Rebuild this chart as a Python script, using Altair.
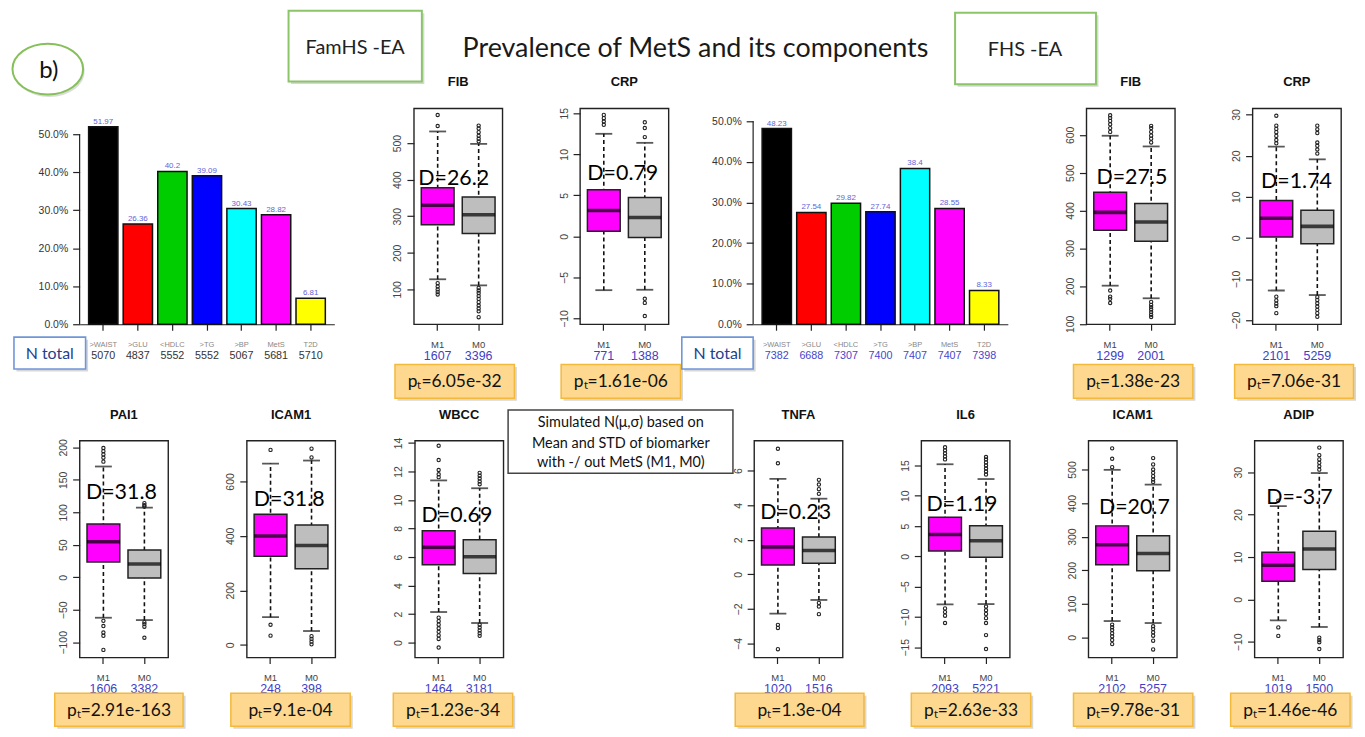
import altair as alt
import pandas as pd

# ------------------------------------------------------------------ data
BAR_CATS = [">WAIST", ">GLU", "<HDLC", ">TG", ">BP", "MetS", "T2D"]
BAR_COLORS = ["#000000", "#ff0000", "#00cd00", "#0000ff", "#00ffff", "#ff00ff", "#ffff00"]
FAM_PCT = [51.97, 26.36, 40.2, 39.09, 30.43, 28.82, 6.81]
FAM_N = [5070, 4837, 5552, 5552, 5067, 5681, 5710]
FHS_PCT = [48.23, 27.54, 29.82, 27.74, 38.4, 28.55, 8.33]
FHS_N = [7382, 6688, 7307, 7400, 7407, 7407, 7398]
PCT_TICKS = [0, 0.1, 0.2, 0.3, 0.4, 0.5]

GROUPS = ["M1", "M0"]
BOX_COLORS = ["#ff00ff", "#bebebe"]

# box stats: [lower whisker, Q1, median, Q3, upper whisker]
FAM_FIB_M1 = [127.7, 277, 330, 378, 532]
FAM_FIB_M0 = [111, 252.6, 304.4, 352.5, 498]
FAM_FIB_OUT1 = [577, 547, 117, 108, 100, 93, 86]
FAM_FIB_OUT0 = [548, 540, 530, 520, 512, 505, 104, 97, 90, 82, 74, 65, 56, 48, 40, 24]
FAM_FIB_N = [1607, 3396]
FAM_FIB_TICKS = [100, 200, 300, 400, 500]

FAM_CRP_M1 = [-6.55, 0.64, 3.15, 5.67, 12.5]
FAM_CRP_M0 = [-6.5, -0.12, 2.3, 4.73, 11.4]
FAM_CRP_OUT1 = [14.8, 14.4, 14.0, 13.6]
FAM_CRP_OUT0 = [13.9, 13.2, 12.1, -7.6, -8.1, -9.7]
FAM_CRP_N = [771, 1388]
FAM_CRP_TICKS = [-10, -5, 0, 5, 10, 15]

FHS_FIB_M1 = [200.9, 347.6, 395, 448.4, 597.8]
FHS_FIB_M0 = [167.5, 318.6, 369.4, 418.7, 569.5]
FHS_FIB_OUT1 = [652, 645, 637, 628, 618, 608, 188, 172, 166, 155]
FHS_FIB_OUT0 = [624, 618, 608, 598, 590, 580, 158, 150, 144, 138, 131, 124, 118]
FHS_FIB_N = [1299, 2001]
FHS_FIB_TICKS = [100, 200, 300, 400, 500, 600]

FHS_CRP_M1 = [-12.8, 0.24, 4.77, 9.1, 22.2]
FHS_CRP_M0 = [-13.9, -1.4, 2.8, 6.7, 19.1]
FHS_CRP_OUT1 = [29.7, 27.3, 26.5, 25.7, 24.8, 23.8, 23.0, -14.3, -15.2, -16.0, -16.6, -18.3]
FHS_CRP_OUT0 = [27.3, 26.4, 25.5, 23.2, 22.4, 21.5, 20.5, -14.4, -15.1, -15.9, -16.7, -17.5, -18.3, -19.2]
FHS_CRP_N = [2101, 5259]
FHS_CRP_TICKS = [-20, -10, 0, 10, 20, 30]

FAM_PAI1_M1 = [-62.2, 23.5, 54.6, 82, 170.5]
FAM_PAI1_M0 = [-65.8, -1, 20.5, 42, 107.2]
FAM_PAI1_OUT1 = [199, 194, 189, 184, 178, -67, -75, -85, -90, -111.7]
FAM_PAI1_OUT0 = [114, 111, 109, -69, -72, -76, -93]
FAM_PAI1_N = [1606, 3382]
FAM_PAI1_TICKS = [-100, -50, 0, 50, 100, 150, 200]

FAM_ICAM1_M1 = [102, 325, 400, 479.4, 665.6]
FAM_ICAM1_M0 = [51, 279.7, 365, 440.3, 676.6]
FAM_ICAM1_OUT1 = [715.7, 74, 34]
FAM_ICAM1_OUT0 = [720, 688, 32, 22, 12, 2]
FAM_ICAM1_N = [248, 398]
FAM_ICAM1_TICKS = [0, 200, 400, 600]

FAM_WBCC_M1 = [2.14, 5.46, 6.68, 7.84, 11.37]
FAM_WBCC_M0 = [1.37, 4.84, 6.02, 7.21, 10.82]
FAM_WBCC_OUT1 = [13.8, 12.8, 12.1, 11.8, 11.6, 1.74, 1.5, 1.25, 1.0, 0.75, 0.5, 0.25, -0.35]
FAM_WBCC_OUT0 = [11.9, 11.7, 11.5, 11.3, 11.1, 1.25, 1.05, 0.85, 0.65, 0.47]
FAM_WBCC_N = [1464, 3181]
FAM_WBCC_TICKS = [0, 2, 4, 6, 8, 10, 12, 14]

FHS_TNFA_M1 = [-2.27, 0.55, 1.59, 2.68, 5.53]
FHS_TNFA_M0 = [-1.48, 0.65, 1.38, 2.17, 4.38]
FHS_TNFA_OUT1 = [7.27, 6.43, -2.92, -3.1, -4.33]
FHS_TNFA_OUT0 = [5.47, 5.2, 4.93, 4.66, -1.65, -1.86, -2.3]
FHS_TNFA_N = [1020, 1516]
FHS_TNFA_TICKS = [-4, -2, 0, 2, 4, 6]

FHS_IL6_M1 = [-7.93, 0.87, 3.6, 6.45, 15.2]
FHS_IL6_M0 = [-7.88, -0.16, 2.58, 5.04, 12.76]
FHS_IL6_OUT1 = [18, 17.5, 17, 16.5, 16, -8.6, -9.2, -9.8, -11]
FHS_IL6_OUT0 = [16.4, 16, 15.5, 15, 14.5, 14, 13.5, -8.3, -8.9, -9.5, -10.2, -11, -13, -15.3]
FHS_IL6_N = [2093, 5221]
FHS_IL6_TICKS = [-15, -10, -5, 0, 5, 10, 15]

FHS_ICAM1_M1 = [48.6, 216.5, 275.8, 332.1, 499]
FHS_ICAM1_M0 = [42.7, 198.7, 250, 302.4, 455]
FHS_ICAM1_OUT1 = [563, 532, 507, 38, 30, 22, 12, 3, -8, -20]
FHS_ICAM1_OUT0 = [534, 515, 500, 490, 480, 470, 463, 33, 25, 15, 5, -10, -36]
FHS_ICAM1_N = [2102, 5257]
FHS_ICAM1_TICKS = [0, 100, 200, 300, 400, 500]

FHS_ADIP_M1 = [-4.93, 4.3, 8.05, 11.1, 22.0]
FHS_ADIP_M0 = [-6.5, 7.04, 11.9, 16.1, 29.8]
FHS_ADIP_OUT1 = [23.3, -6.6, -8.6]
FHS_ADIP_OUT0 = [35.8, 34, 33, 32.2, 31.4, 30.6, -9, -9.6, -10.1, -11.7]
FHS_ADIP_N = [1019, 1500]
FHS_ADIP_TICKS = [-10, 0, 10, 20, 30]

D_VALUES = ["26.2", "0.79", "27.5", "1.74", "31.8", "31.8", "0.69", "0.23", "1.19", "20.7", "-3.7"]
P_VALUES = ["6.05e-32", "1.61e-06", "1.38e-23", "7.06e-31", "2.91e-163", "9.1e-04",
            "1.23e-34", "1.3e-04", "2.63e-33", "9.78e-31", "1.46e-46"]

TITLE = "Prevalence of MetS and its components"
NOTE = ["Simulated N(\u03bc,\u03c3) based on", "Mean and STD of biomarker", "with -/ out MetS (M1, M0)"]

# ------------------------------------------------------------------ helpers
RF = "Liberation Sans"
CF = "Lato"
ONE = pd.DataFrame({"k": [0]})
H1 = 217
H2 = 218
BW = 89


def rect(x0, x1, y0, y1, fill, stroke, sw=1.5, shadow=True):
    out = []
    if shadow:
        out.append(alt.Chart(ONE).mark_rect(fill="#8c8c8c", opacity=0.35).encode(
            x=alt.value(x0 + 2.5), x2=alt.value(x1 + 2.5), y=alt.value(y0 + 2.5), y2=alt.value(y1 + 2.5)))
    out.append(alt.Chart(ONE).mark_rect(fill=fill, stroke=stroke, strokeWidth=sw).encode(
        x=alt.value(x0), x2=alt.value(x1), y=alt.value(y0), y2=alt.value(y1)))
    return out


def text(x, y, s, **kw):
    return alt.Chart(ONE).mark_text(align="center", baseline="middle", **kw).encode(
        x=alt.value(x), y=alt.value(y), text=alt.value(s))


def pt_box(x0, x1, y0, y1, pval):
    lay = rect(x0, x1, y0, y1, "#fdd88e", "#f2b93b", 1.5)
    lay.append(text((x0 + x1) / 2, (y0 + y1) / 2 + 1, "p\u209c=" + pval, font=CF, fontSize=17.5, color="#111"))
    return lay


def box_panel(title, m1, m0, out1, out0, ns, ticks, dom, dval, d_xy, pval, pt_x, h, pt_y):
    stats = pd.DataFrame({
        "grp": GROUPS, "col": BOX_COLORS,
        "lo": [m1[0], m0[0]], "q1": [m1[1], m0[1]], "med": [m1[2], m0[2]],
        "q3": [m1[3], m0[3]], "hi": [m1[4], m0[4]], "n": [str(v) for v in ns]})
    outl = pd.DataFrame({"grp": ["M1"] * len(out1) + ["M0"] * len(out0), "v": list(out1) + list(out0)})
    xs = alt.Scale(domain=GROUPS, paddingInner=0.2, paddingOuter=0.18)
    xax = alt.Axis(title=None, domain=False, grid=False, labelAngle=0, labelFont=RF, labelFontSize=9.5,
                   labelColor="#444", tickColor="#222", tickSize=6, tickWidth=1.2, labelPadding=9)
    X = alt.X("grp:N", scale=xs, axis=xax, title=None)
    Xn = alt.X("grp:N", scale=xs, title=None)
    ys = alt.Scale(domain=dom, nice=False, zero=False)
    yax = alt.Axis(title=None, values=ticks, tickCount=30, format="d", domain=False, grid=False,
                   labelAngle=270, labelAlign="center", labelBaseline="bottom", labelPadding=4, tickSize=7,
                   tickColor="#222", tickWidth=1.2, labelFont=RF, labelFontSize=10.5, labelColor="#444",
                   labelOverlap=False)
    base = alt.Chart(stats)
    whisk = base.mark_rule(color="#111", strokeWidth=1.6, strokeDash=[4, 3]).encode(
        x=X, y=alt.Y("lo:Q", scale=ys, axis=yax, title=None), y2="hi:Q")
    cap_lo = base.mark_tick(color="#111", size=17, thickness=1.8).encode(x=Xn, y=alt.Y("lo:Q", title=None))
    cap_hi = base.mark_tick(color="#111", size=17, thickness=1.8).encode(x=Xn, y=alt.Y("hi:Q", title=None))
    box = base.mark_bar(stroke="#222", strokeWidth=1.5).encode(
        x=Xn, y=alt.Y("q1:Q", title=None), y2="q3:Q", color=alt.Color("col:N", scale=None, legend=None))
    med = base.mark_tick(color="#000", size=33, thickness=3.6).encode(x=Xn, y=alt.Y("med:Q", title=None))
    pts = alt.Chart(outl).mark_point(shape="circle", filled=False, size=11, strokeWidth=1.1,
                                     color="#222", opacity=1).encode(x=Xn, y=alt.Y("v:Q", title=None))
    cnt = base.mark_text(font=RF, fontSize=12.5, color="#4040c6", baseline="middle").encode(
        x=Xn, y=alt.value(h + 31.7), text="n:N")
    ttl = text(BW / 2, -26, title, font=RF, fontSize=13, fontWeight="bold", color="#111")
    dt = text(d_xy[0], d_xy[1], "D=" + dval, font=CF, fontSize=21.5, color="#000")
    layers = [whisk, cap_lo, cap_hi, box, med, pts, dt, ttl, cnt]
    layers += pt_box(pt_x[0], pt_x[1], pt_y[0], pt_y[1], pval)
    return alt.layer(*layers).properties(
        width=BW, height=h, view=alt.ViewBackground(stroke="#222", strokeWidth=1.4))


def bar_panel(pct, ns, ymax, ncolor, extra):
    df = pd.DataFrame({"cat": BAR_CATS, "col": BAR_COLORS, "v": [p / 100 for p in pct],
                       "lab": [str(p) for p in pct], "n": [str(v) for v in ns]})
    xs = alt.Scale(domain=BAR_CATS, paddingInner=0.152, paddingOuter=0.26)
    xax = alt.Axis(title=None, labelAngle=0, labelFont=RF, labelFontSize=7.5, labelColor="#888",
                   tickSize=6, tickColor="#222", tickWidth=1.2, domainColor="#222", domainWidth=1.2,
                   labelPadding=10, grid=False, labelOverlap=False)
    X = alt.X("cat:N", scale=xs, axis=xax, title=None, sort=BAR_CATS)
    Xn = alt.X("cat:N", scale=xs, title=None, sort=BAR_CATS)
    ys = alt.Scale(domain=[0, ymax], nice=False, zero=True)
    yax = alt.Axis(title=None, values=PCT_TICKS, tickCount=30, format=".1%", domain=False, grid=False,
                   tickSize=7, tickColor="#222", tickWidth=1.2, labelPadding=5, labelFont=RF,
                   labelFontSize=10.5, labelColor="#333", labelOverlap=False)
    base = alt.Chart(df)
    bars = base.mark_bar(stroke="#111", strokeWidth=1.5).encode(
        x=X, y=alt.Y("v:Q", scale=ys, axis=yax, title=None),
        color=alt.Color("col:N", scale=None, legend=None))
    vals = base.mark_text(font=RF, fontSize=8, color="#6464d8", baseline="bottom", dy=-1).encode(
        x=Xn, y=alt.Y("v:Q", title=None), text="lab:N")
    yline = alt.Chart(pd.DataFrame({"a": [PCT_TICKS[0]], "b": [PCT_TICKS[-1]]})).mark_rule(
        color="#222", strokeWidth=1.2).encode(x=alt.value(0), y=alt.Y("a:Q", title=None), y2="b:Q")
    cnt = base.mark_text(font=RF, fontSize=10.8, color=ncolor, baseline="middle").encode(
        x=Xn, y=alt.value(249.3), text="n:N")
    return alt.layer(bars, vals, yline, cnt, *extra).properties(width=256, height=H1)


def spacer(w, h, extra=()):
    blank = alt.Chart(ONE).mark_point(opacity=0).encode(x=alt.value(0), y=alt.value(0))
    return alt.layer(blank, *extra).properties(width=w, height=h)


# ------------------------------------------------------------------ row 1
ELL = "M-1,0A1,0.72,0,1,1,1,0A1,0.72,0,1,1,-1,0Z"
ellipse_sh = alt.Chart(ONE).mark_point(shape=ELL, size=71 * 71, filled=True, fill="#999",
                                       opacity=0.35).encode(x=alt.value(37.5), y=alt.value(-37))
ellipse = alt.Chart(ONE).mark_point(shape=ELL, size=71 * 71, filled=True, fill="white", stroke="#86c05a",
                                    strokeWidth=2, opacity=1).encode(x=alt.value(36), y=alt.value(-39.5))
anchor1 = alt.Chart(ONE).mark_rect(fill="white").encode(
    x=alt.value(0), x2=alt.value(1), y=alt.value(-98), y2=alt.value(295))
sp0 = spacer(68, H1, [anchor1, ellipse_sh, ellipse, text(37, -38, "b)", font=CF, fontSize=24, color="#111")])

fam_extra = rect(-66, 6, 230, 262, "white", "#6f96d8", 1.6) + [
    text(-30, 247, "N total", font=CF, fontSize=16, color="#233f8c")] + rect(
    210, 344, -98, -27, "white", "#8cc46a", 2) + [
    text(277, -61, "FamHS -EA", font=CF, fontSize=20, color="#222")]
bar1 = bar_panel(FAM_PCT, FAM_N, 0.568, "#333333", fam_extra)

fib1 = box_panel("FIB", FAM_FIB_M1, FAM_FIB_M0, FAM_FIB_OUT1, FAM_FIB_OUT0, FAM_FIB_N, FAM_FIB_TICKS,
                 [4.7, 595.2], D_VALUES[0], (40, 71), P_VALUES[0], (-19, 101), H1, (257.5, 291.5))
crp1_core = box_panel("CRP", FAM_CRP_M1, FAM_CRP_M0, FAM_CRP_OUT1, FAM_CRP_OUT0, FAM_CRP_N, FAM_CRP_TICKS,
                      [-10.7, 15.6], D_VALUES[1], (43, 66), P_VALUES[1], (-19, 101), H1, (257.5, 291.5))
crp1 = alt.layer(crp1_core, text(116, -60, TITLE, font=CF, fontSize=27, color="#1a1a1a")).properties(
    width=BW, height=H1, view=alt.ViewBackground(stroke="#222", strokeWidth=1.4))

fhs_extra = rect(-71.7, 0, 230, 262, "white", "#6f96d8", 1.6) + [
    text(-35.8, 247, "N total", font=CF, fontSize=16, color="#233f8c")] + rect(
    203, 344.6, -96, -24.3, "white", "#8cc46a", 2) + [
    text(273.3, -59, "FHS -EA", font=CF, fontSize=20, color="#222")]
bar2 = bar_panel(FHS_PCT, FHS_N, 0.532, "#4646cc", fhs_extra)

fib2 = box_panel("FIB", FHS_FIB_M1, FHS_FIB_M0, FHS_FIB_OUT1, FHS_FIB_OUT0, FHS_FIB_N, FHS_FIB_TICKS,
                 [98.8, 670.3], D_VALUES[2], (45.7, 70), P_VALUES[2], (-13, 107), H1, (257.5, 291.5))
crp2 = box_panel("CRP", FHS_CRP_M1, FHS_CRP_M0, FHS_CRP_OUT1, FHS_CRP_OUT0, FHS_CRP_N, FHS_CRP_TICKS,
                 [-21.0, 31.5], D_VALUES[3], (44.2, 74), P_VALUES[3], (-18, 101.5), H1, (257.5, 291.5))

row1 = alt.hconcat(sp0, bar1, spacer(80, H1), fib1, spacer(78, H1), crp1, spacer(84.7, H1), bar2,
                   spacer(78.6, H1), fib2, spacer(78, H1), crp2, spacing=0, bounds="flush")

# ------------------------------------------------------------------ row 2
PY2 = (254, 287)
anchor2 = alt.Chart(ONE).mark_rect(fill="white").encode(
    x=alt.value(0), x2=alt.value(1), y=alt.value(-39), y2=alt.value(289))
sp20 = spacer(68, H2, [anchor2])

pai1 = box_panel("PAI1", FAM_PAI1_M1, FAM_PAI1_M0, FAM_PAI1_OUT1, FAM_PAI1_OUT0, FAM_PAI1_N, FAM_PAI1_TICKS,
                 [-123.4, 210.3], D_VALUES[4], (42, 53), P_VALUES[4], (-25, 104), H2, PY2)
icam1 = box_panel("ICAM1", FAM_ICAM1_M1, FAM_ICAM1_M0, FAM_ICAM1_OUT1, FAM_ICAM1_OUT0, FAM_ICAM1_N,
                  FAM_ICAM1_TICKS, [-46.2, 749.7], D_VALUES[5], (42.7, 60), P_VALUES[5], (-16, 104), H2, PY2)
wbcc = box_panel("WBCC", FAM_WBCC_M1, FAM_WBCC_M0, FAM_WBCC_OUT1, FAM_WBCC_OUT0, FAM_WBCC_N, FAM_WBCC_TICKS,
                 [-1.05, 14.16], D_VALUES[6], (42.3, 76), P_VALUES[6], (-21.7, 98.3), H2, PY2)
tnfa_core = box_panel("TNFA", FHS_TNFA_M1, FHS_TNFA_M0, FHS_TNFA_OUT1, FHS_TNFA_OUT0, FHS_TNFA_N,
                      FHS_TNFA_TICKS, [-4.81, 7.74], D_VALUES[7], (41.7, 73), P_VALUES[7], (-19, 110.4), H2, PY2)
note_layers = rect(-247.3, -21.3, -30.7, 32.7, "white", "#444", 1.5, shadow=False) + [
    text(-134, -18, NOTE[0], font=CF, fontSize=14.5, color="#111"),
    text(-134, 3, NOTE[1], font=CF, fontSize=14.5, color="#111"),
    text(-134, 23, NOTE[2], font=CF, fontSize=14.5, color="#111")]
tnfa = alt.layer(tnfa_core, *note_layers).properties(
    width=BW, height=H2, view=alt.ViewBackground(stroke="#222", strokeWidth=1.4))
il6 = box_panel("IL6", FHS_IL6_M1, FHS_IL6_M0, FHS_IL6_OUT1, FHS_IL6_OUT0, FHS_IL6_N, FHS_IL6_TICKS,
                [-16.7, 19.1], D_VALUES[8], (41, 65), P_VALUES[8], (-10, 110), H2, PY2)
icam1f = box_panel("ICAM1", FHS_ICAM1_M1, FHS_ICAM1_M0, FHS_ICAM1_OUT1, FHS_ICAM1_OUT0, FHS_ICAM1_N,
                   FHS_ICAM1_TICKS, [-60, 586], D_VALUES[9], (46.2, 68), P_VALUES[9], (-15, 105), H2, PY2)
adip = box_panel("ADIP", FHS_ADIP_M1, FHS_ADIP_M0, FHS_ADIP_OUT1, FHS_ADIP_OUT0, FHS_ADIP_N, FHS_ADIP_TICKS,
                 [-13.7, 37.44], D_VALUES[10], (45.2, 58), P_VALUES[10], (-24, 96), H2, PY2)

row2 = alt.hconcat(sp20, pai1, spacer(78.3, H2), icam1, spacer(79.4, H2), wbcc, spacer(251.6, H2), tnfa,
                   spacer(78.7, H2), il6, spacer(78.3, H2), icam1f, spacer(78, H2), adip,
                   spacing=0, bounds="flush")

chart = alt.vconcat(row1, row2, spacing=0).properties(padding=0).configure_view(strokeWidth=0)
chart.save("out.html", embed_options={"renderer": "svg", "actions": False})
